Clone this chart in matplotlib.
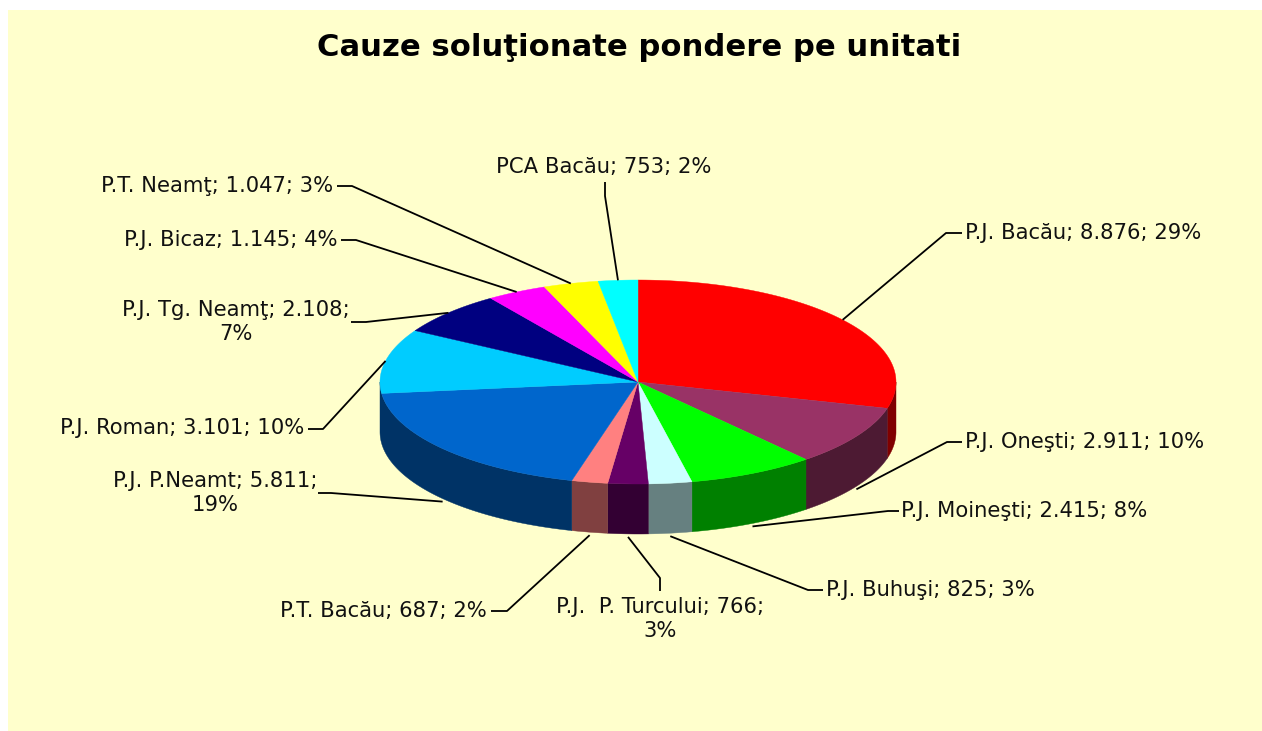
#!/usr/bin/env python3
"""3D style pie of solved cases per unit, drawn by hand since matplotlib's pie is flat"""

import numpy as np
import matplotlib
matplotlib.use('Agg')  # Non-interactive backend
import matplotlib.pyplot as plt
from matplotlib.colors import to_rgb
from matplotlib.patches import Polygon, Rectangle

title = 'Cauze soluţionate pondere pe unitati'

units = ['P.J. Bacău', 'P.J. Oneşti', 'P.J. Moineşti', 'P.J. Buhuşi', 'P.J.  P. Turcului',
         'P.T. Bacău', 'P.J. P.Neamt', 'P.J. Roman', 'P.J. Tg. Neamţ', 'P.J. Bicaz',
         'P.T. Neamţ', 'PCA Bacău']
cases = [8876, 2911, 2415, 825, 766, 687, 5811, 3101, 2108, 1145, 1047, 753]
cases_text = ['8.876', '2.911', '2.415', '825', '766', '687', '5.811', '3.101', '2.108',
              '1.145', '1.047', '753']
percents = [29, 10, 8, 3, 3, 2, 19, 10, 7, 4, 3, 2]
colors = ['#FF0000', '#993366', '#00FF00', '#CCFFFF', '#660066', '#FF8080', '#0066CC',
          '#00CCFF', '#000080', '#FF00FF', '#FFFF00', '#00FFFF']

# Pie geometry, in pixels of the final image
CX, CY = 638, 382
RX, RY = 258, 102
DEPTH = 50

# Label layout: text x, text y, alignment, line break or not, elbow point, leader end
label_layout = [
    (965, 233, 'left', False, (946, 233), (962, 233)),
    (965, 442, 'left', False, (947, 442), (962, 442)),
    (901, 511, 'left', False, (888, 511), (899, 511)),
    (826, 590, 'left', False, (808, 590), (823, 590)),
    (660, 619, 'center', True, (660, 578), (660, 591)),
    (487, 611, 'right', False, (507, 611), (491, 611)),
    (215, 493, 'center', True, (331, 493), (318, 493)),
    (304, 428, 'right', False, (323, 429), (308, 429)),
    (236, 322, 'center', True, (366, 322), (351, 322)),
    (338, 240, 'right', False, (356, 240), (341, 240)),
    (333, 186, 'right', False, (352, 186), (337, 186)),
    (604, 167, 'center', False, (605, 196), (605, 182)),
]


def rim(angle):
    """Point on the top ellipse, angle in degrees clockwise from 12 o'clock"""
    rad = np.radians(angle)
    return CX + RX * np.sin(rad), CY - RY * np.cos(rad)


def draw_pie(ax, edges):
    """Draw the side wall first, then the top slices"""
    # A boundary just short of the left extreme gets no sliver of wall after it
    wall_edges = np.where((edges > 260) & (edges < 270), 270, edges)
    for start, stop, color in zip(wall_edges[:-1], wall_edges[1:], colors):
        # Only the front half (90 to 270 degrees) of the wall can be seen
        low, high = max(start, 90), min(stop, 270)
        if low < high:
            xs, ys = rim(np.linspace(low, high, 80))
            top = np.column_stack([xs, ys])
            bottom = np.column_stack([xs, ys + DEPTH])[::-1]
            dark = tuple(c * 0.5 for c in to_rgb(color))
            ax.add_patch(Polygon(np.vstack([top, bottom]), closed=True, facecolor=dark,
                                 edgecolor=dark, linewidth=0.3, zorder=2))

    for start, stop, color in zip(edges[:-1], edges[1:], colors):
        xs, ys = rim(np.linspace(start, stop, 120))
        points = np.vstack([[CX, CY], np.column_stack([xs, ys])])
        ax.add_patch(Polygon(points, closed=True, facecolor=color, edgecolor=color,
                             linewidth=0.3, zorder=3))


def draw_labels(ax, edges):
    """Draw the leader lines and the data labels"""
    middles = (edges[:-1] + edges[1:]) / 2
    for i, (x, y, align, wrapped, elbow, end) in enumerate(label_layout):
        rim_x, rim_y = rim(middles[i])
        # Leaders of the front slices start at the bottom of the wall
        if 90 < middles[i] < 270:
            rim_y += DEPTH + 3
        ax.plot([rim_x, elbow[0], end[0]], [rim_y, elbow[1], end[1]], color='black',
                linewidth=1.3, solid_capstyle='butt', zorder=4)

        sep = ';\n' if wrapped else '; '
        text = f"{units[i]}; {cases_text[i]}{sep}{percents[i]}%"
        ax.text(x, y, text, ha=align, va='center', multialignment='center',
                family='DejaVu Sans', fontsize=15.2, color='#111111', linespacing=1.27, zorder=5)


def main():
    fig = plt.figure(figsize=(12.62, 7.31), dpi=100, facecolor='white')
    ax = fig.add_axes([0, 0, 1, 1])
    ax.set_xlim(0, 1262)
    ax.set_ylim(731, 0)
    ax.axis('off')

    # Chart area does not reach the left and top edges of the image
    ax.add_patch(Rectangle((8, 10), 1254, 721, facecolor='#FFFFCC', edgecolor='none', zorder=1))

    ax.text(639, 48, title, ha='center', va='center', family='DejaVu Sans',
            fontweight='bold', fontsize=22.1, color='black', zorder=5)

    edges = np.cumsum([0] + cases) / sum(cases) * 360
    draw_pie(ax, edges)
    draw_labels(ax, edges)

    fig.savefig('out.png', dpi=100)


if __name__ == "__main__":
    main()
